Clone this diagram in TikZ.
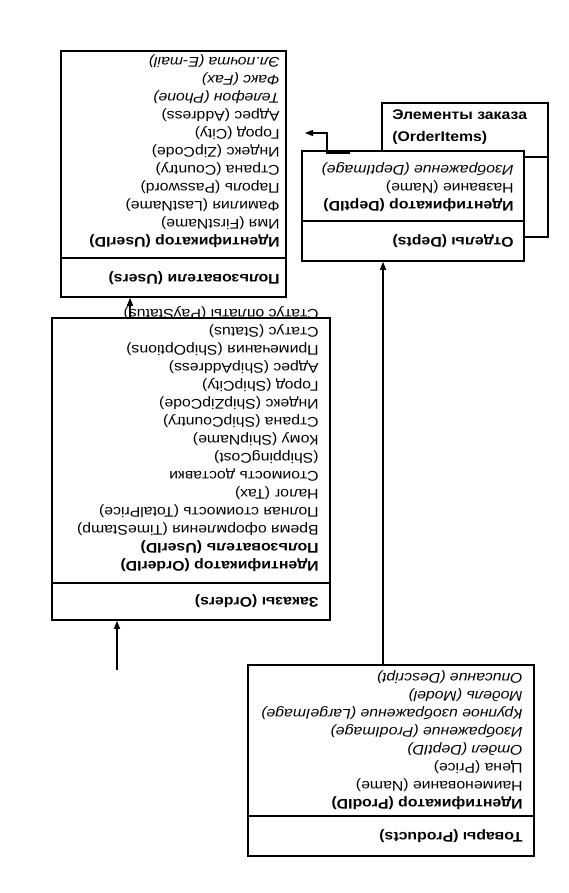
\documentclass[tikz,border=0pt]{standalone}
\usepackage{fontspec}
\setmainfont{Liberation Sans}[FakeStretch=1.13]
\usetikzlibrary{arrows.meta, fit}

\begin{document}
\begin{tikzpicture}[
  x=0.75pt, y=-0.75pt,
  tablebox/.style={
    draw=black,
    line width=1.2pt,
    fill=white,
    inner sep=0pt
  },
  fields/.style={
    rotate=180,
    anchor=north west,
    align=left,
    inner sep=0pt,
    font=\fontsize{10.5}{13.5}\selectfont
  },
  caption/.style={
    rotate=180,
    anchor=west,
    inner sep=0pt,
    font=\fontsize{10.5}{13.5}\selectfont\bfseries
  },
  divider/.style={line width=1.2pt},
  fk/.style={-{Triangle[length=6pt, width=4.5pt]}, line width=0.9pt}
]
  \useasboundingbox (0,0) rectangle (568,893);

  % Users
  \node[tablebox, fit={(61,51) (286,297)}] (users) {};
  \draw[divider] (users.west |- 0,258) -- (users.east |- 0,258);
  \node[caption] (userscap) at (280,278) {Пользователи (Users)};
  \node[fields] (usersf) at (280,248) {{\bfseries Идентификатор (UserID)}\\Имя (FirstName)\\Фамилия (LastName)\\Пароль (Password)\\Страна (Country)\\Индекс (ZipCode)\\Город (City)\\Адрес (Address)\\{\itshape Телефон (Phone)}\\{\itshape Факс (Fax)}\\{\itshape Эл.почта (E-mail)}};

  % Orders
  \node[tablebox, fit={(52,318) (330,620)}] (orders) {};
  \draw[divider] (orders.west |- 0,583) -- (orders.east |- 0,583);
  \node[caption] (orderscap) at (319,601) {Заказы (Orders)};
  \node[fields] (ordersf) at (319,572) {{\bfseries Идентификатор (OrderID)}\\{\bfseries Пользователь (UserID)}\\Время оформления (TimeStamp)\\Полная стоимость (TotalPrice)\\Налог (Tax)\\Стоимость доставки\\(ShippingCost)\\Кому (ShipName)\\Страна (ShipCountry)\\Индекс (ShipZipCode)\\Город (ShipCity)\\Адрес (ShipAddress)\\Примечания (ShipOptions)\\Статус (Status)\\Статус оплаты (PayStatus)};

  % OrderItems, partly under Depts
  \node[tablebox, fit={(382,103) (548,237)}] (items) {};
  \draw[divider] (items.west |- 0,157) -- (items.east |- 0,157);
  \node[anchor=north west, align=left, inner sep=0pt,
    font=\fontsize{10.5}{16.5}\selectfont\bfseries] (itemscap) at (392,109.5) {Элементы заказа\\(OrderItems)};

  % Depts
  \node[tablebox, fit={(302,151) (524,261)}] (depts) {};
  \draw[divider] (depts.west |- 0,221) -- (depts.east |- 0,221);
  \node[caption] (deptscap) at (514,241) {Отделы (Depts)};
  \node[fields] (deptsf) at (514,212) {{\bfseries Идентификатор (DeptID)}\\Название (Name)\\{\itshape Изображение (DeptImage)}};

  % Products
  \node[tablebox, fit={(248,665) (534,856)}] (products) {};
  \draw[divider] (products.west |- 0,816) -- (products.east |- 0,816);
  \node[caption] (productscap) at (523,836) {Товары (Products)};
  \node[fields] (productsf) at (523,810) {{\bfseries Идентификатор (ProdID)}\\Наименование (Name)\\Цена (Price)\\{\itshape Отдел (DeptID)}\\{\itshape Изображение (ProdImage)}\\{\itshape Крупное изображение (LargeImage)}\\{\itshape Модель (Model)}\\{\itshape Описание (Descript)}};

  % links
  \coordinate (ordtail) at (117,670);
  \coordinate (itemtail) at (350,153);
  \draw[fk] (ordtail) -- (ordtail |- orders.south);
  \draw[fk] (130,0 |- orders.north) -- (130,0 |- users.south);
  \draw[fk] (383,0 |- products.north) -- (383,0 |- depts.south);
  \draw[fk] (itemtail) -- ++(-23,0) -- ++(0,-20) -- ++(-22,0);
\end{tikzpicture}
\end{document}
